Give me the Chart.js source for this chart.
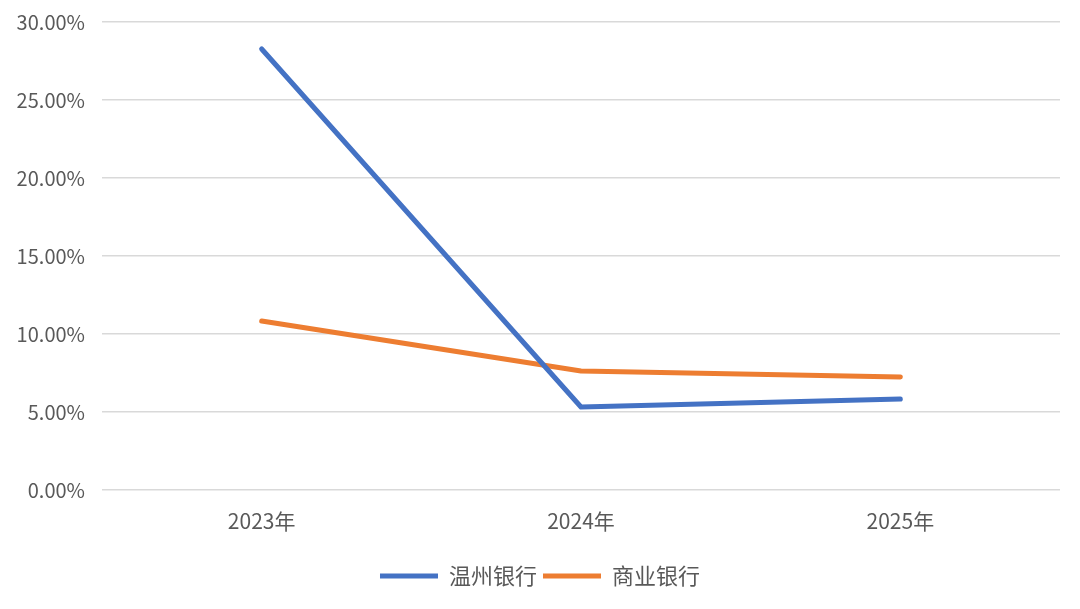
<!DOCTYPE html>
<html><head><meta charset="utf-8">
<script src="https://cdn.jsdelivr.net/npm/chart.js@4.4.0/dist/chart.umd.min.js"></script>
<style>html,body{margin:0;padding:0;background:#fff;}#wrap{width:1080px;height:609px;}</style>
</head><body><div id="wrap"><canvas id="c" width="1080" height="609"></canvas></div>
<script>
const categories = ['2023年', '2024年', '2025年'];
const wenzhouBank = [28.27, 5.32, 5.83];
const commercialBanks = [10.83, 7.63, 7.24];
const seriesNames = ['温州银行', '商业银行'];
const yTicks = [0, 5, 10, 15, 20, 25, 30];

const FONT = '"Noto Sans CJK SC", "Noto Sans", sans-serif';
new Chart(document.getElementById('c'), {
  type: 'line',
  data: {
    labels: categories,
    datasets: [
      {label: seriesNames[0], data: wenzhouBank, borderColor: '#4472C4', backgroundColor: '#4472C4', borderWidth: 5, pointRadius: 0, borderCapStyle: 'round', borderJoinStyle: 'round', tension: 0},
      {label: seriesNames[1], data: commercialBanks, borderColor: '#ED7D31', backgroundColor: '#ED7D31', borderWidth: 5, pointRadius: 0, borderCapStyle: 'round', borderJoinStyle: 'round', tension: 0}
    ]
  },
  options: {
    responsive: false,
    animation: false,
    layout: {padding: {top: 22, right: 0, bottom: 12, left: 0}},
    plugins: {
      tooltip: {enabled: false},
      legend: {
        position: 'bottom',
        labels: {
          usePointStyle: true, pointStyle: 'line', pointStyleWidth: 58,
          color: '#595959', font: {family: FONT, size: 22}, padding: 6, boxHeight: 19
        }
      }
    },
    scales: {
      x: {
        offset: true,
        grid: {display: false},
        border: {display: false},
        ticks: {color: '#595959', font: {family: FONT, size: 21}, padding: 10},
        afterFit: s => { s.height = 69; }
      },
      y: {
        min: 0, max: 30,
        afterBuildTicks: s => { s.ticks = yTicks.map(v => ({value: v})); },
        grid: {color: '#D9D9D9', lineWidth: 1.5, drawTicks: false},
        border: {display: false},
        ticks: {color: '#595959', font: {family: FONT, size: 20}, padding: 17, callback: v => v.toFixed(2) + '%'},
        afterFit: s => { s.width = 102; s.paddingTop = 0; s.paddingBottom = 0; }
      },
      yRight: {
        position: 'right',
        min: 0, max: 30,
        grid: {display: false, drawOnChartArea: false},
        border: {display: false},
        ticks: {display: false},
        afterFit: s => { s.width = 20; s.paddingTop = 0; s.paddingBottom = 0; }
      }
    }
  }
});
</script></body></html>
